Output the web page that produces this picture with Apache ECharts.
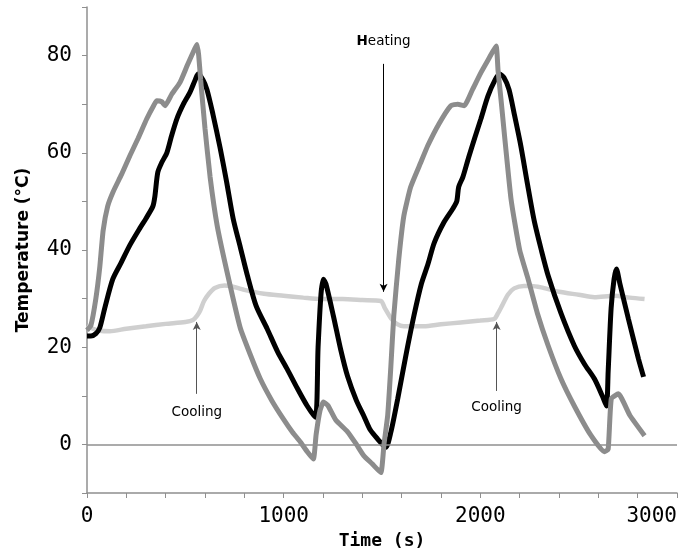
<!DOCTYPE html>
<html>
<head>
<meta charset="utf-8">
<script src="https://cdn.jsdelivr.net/npm/echarts@6/dist/echarts.min.js"></script>
<style>html,body{margin:0;padding:0;background:#fff}#c{width:681px;height:554px}</style>
</head>
<body>
<div id="c"></div>
<script>
// Surface (dark gray) series
const surfaceTime = [0,20,45,65,82,105,133,175,218,260,304,340,355,380,397,430,473,510,549,560,568,578,600,626,662,712,779,830,881,940,999,1045,1085,1120,1151,1165,1185,1202,1225,1265,1325,1370,1407,1450,1494,1510,1529,1545,1560,1585,1611,1646,1697,1733,1790,1850,1885,1918,1960,2003,2045,2080,2090,2105,2156,2200,2243,2290,2345,2410,2478,2560,2631,2650,2666,2702,2760,2835];
const surfaceTemp = [23.5,24.5,30,36.5,44,49,52,55.5,59.4,63,67,69.8,70.7,70.5,69.7,72,74.5,78,81.5,82.3,80,75,65,55,45,35.5,24,18.5,13.5,9,5.2,2.5,0.5,-1.5,-3,2,7,8.7,8,5,2.6,0,-2.3,-4,-5.8,0,6,16,26.5,38,47,53,58,61.5,66,69.7,70,69.7,73,76.5,79.5,82,77,71,50.5,40,34,27,20.3,13.5,7.9,2,-1.5,-1,9.4,10.4,6,1.8];
// Core (black) series
const coreTime = [0,20,45,65,90,131,175,218,269,300,335,345,360,380,406,430,457,490,524,550,565,590,610,640,677,710,743,780,814,860,916,970,1018,1070,1120,1161,1175,1190,1202,1215,1253,1290,1325,1370,1407,1440,1478,1519,1545,1580,1620,1662,1700,1733,1766,1815,1860,1880,1890,1911,1940,1971,2003,2039,2075,2098,2120,2146,2175,2206,2240,2274,2310,2345,2410,2478,2530,2580,2620,2641,2650,2665,2680,2692,2710,2753,2804,2830];
const coreTemp = [22.3,22.3,22.8,24,28,34,37.5,41,44.5,46.5,49,51,56,58,60,63.5,67,70,72.5,75,76.2,75,73,68,61,54,46.5,40.5,35,28.5,23.8,19,15.5,11.5,7.9,5.6,20,31,34,33,26.4,19.5,14,9,5.9,3,1.1,-0.6,2.5,9.4,18,26.4,33,37,41.5,45.7,48.5,50,53,55,59,63,67,71.7,75,76.2,75.5,73,67.5,61.4,53.5,46,40,34.7,27,20.3,16.5,13.5,10,7.9,15,28,34,36.1,33,25.8,17.6,13.9];
// Ambient (light gray) series
const ambientTime = [0,30,65,116,200,300,400,500,539,560,575,595,620,650,700,728,800,900,999,1100,1187,1300,1400,1494,1515,1545,1575,1611,1713,1800,1900,2000,2070,2090,2110,2140,2172,2222,2260,2309,2400,2500,2580,2682,2760,2835];
const ambientTemp = [24.5,23.8,23.4,23.3,23.8,24.3,24.8,25.2,25.6,26.5,27.5,29.5,31,32.2,32.7,32.6,31.8,31,30.6,30.2,29.9,29.9,29.7,29.5,28,26,24.8,24.3,24.3,24.7,25.1,25.5,25.8,27,28.5,30.8,32.1,32.6,32.6,32.3,31.4,30.8,30.3,30.6,30.2,29.9];

const xTickLabels = [0,1000,2000,3000];
const yTickLabels = [0,20,40,60,80];

// annotations: label text and arrow ends in data units
const annotations = [
  {text:'{b|H}eating', x:1508, y:82.9, from:78.3, to:31.4, color:'#000'},
  {text:'Cooling', x:558, y:6.5, from:10.4, to:25.2, color:'#555'},
  {text:'Cooling', x:2083, y:7.5, from:11.0, to:25.2, color:'#555'}
];

const zip = (a,b) => a.map((v,i)=>[v,b[i]]);
const mono = 'DejaVu Sans Mono';
const axisColor = '#8f8f8f';

const chart = echarts.init(document.getElementById('c'));
chart.setOption({
  animation:false,
  grid:{left:87,right:4,top:7,bottom:61,outerBoundsMode:'none',containLabel:false},
  xAxis:{
    type:'value',min:0,max:3000,interval:200,
    name:'Time (s)',nameLocation:'middle',nameGap:30,
    nameTextStyle:{fontFamily:mono,fontWeight:'bold',fontSize:18,color:'#000'},
    axisLine:{onZero:false,lineStyle:{color:axisColor,width:1.5}},
    axisTick:{show:true,length:5,lineStyle:{color:axisColor,width:1}},
    axisLabel:{margin:13,fontFamily:mono,fontSize:21,color:'#000',alignMaxLabel:'right',
      formatter:v=>xTickLabels.includes(v)?String(v):''},
    splitLine:{show:false}
  },
  yAxis:{
    type:'value',min:-10,max:90,interval:10,
    name:'Temperature (°C)',nameLocation:'middle',nameGap:55,
    nameTextStyle:{fontFamily:'DejaVu Sans',fontWeight:'bold',fontSize:17,color:'#000'},
    axisLine:{show:true,onZero:false,lineStyle:{color:axisColor,width:1.5}},
    axisTick:{show:true,length:5,lineStyle:{color:axisColor,width:1}},
    axisLabel:{margin:15,fontFamily:mono,fontSize:21,color:'#000',
      formatter:v=>yTickLabels.includes(v)?String(v):''},
    splitLine:{show:false}
  },
  series:[
    {type:'line',name:'ambient',data:zip(ambientTime,ambientTemp),showSymbol:false,symbol:'none',
     smooth:0.25,lineStyle:{color:'#cfcfcf',width:4.5},z:2,
     markLine:{silent:true,symbol:'none',label:{show:false},
       lineStyle:{color:axisColor,width:1.5,type:'solid'},data:[{yAxis:0}]}},
    {type:'line',name:'core',data:zip(coreTime,coreTemp),showSymbol:false,symbol:'none',
     smooth:0.25,lineStyle:{color:'#000',width:5},z:3},
    {type:'line',name:'surface',data:zip(surfaceTime,surfaceTemp),showSymbol:false,symbol:'none',
     smooth:0.15,lineStyle:{color:'#8c8c8c',width:5},z:4,
     markLine:{silent:true,symbol:['none','arrow'],symbolSize:[6,8],label:{show:false},
       data:annotations.map(a=>[
         {coord:[a.x,a.from],lineStyle:{color:a.color,width:1,type:'solid'}},
         {coord:[a.x,a.to]}
       ])},
     markPoint:{silent:true,symbol:'circle',symbolSize:0,
       data:annotations.map(a=>({coord:[a.x,a.y],
         label:{show:true,position:'inside',formatter:a.text,color:'#000',
           fontFamily:'DejaVu Sans',fontSize:13.5,
           rich:{b:{fontWeight:'bold',fontFamily:'DejaVu Sans',fontSize:13.5,color:'#000'}}}}))}
    }
  ]
});
</script>
</body>
</html>
